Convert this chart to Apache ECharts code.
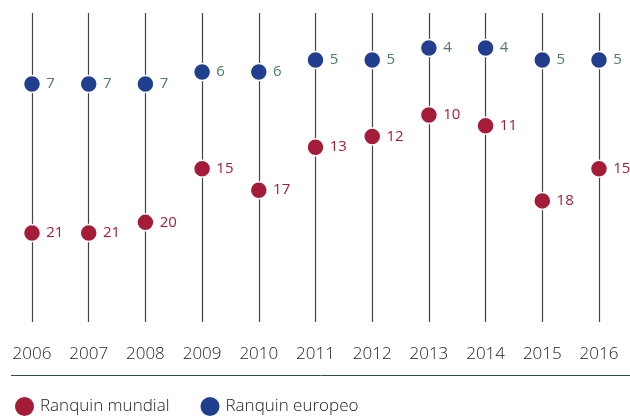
<!DOCTYPE html>
<html>
<head>
<meta charset="utf-8">
<script src="https://cdn.jsdelivr.net/npm/echarts@6/dist/echarts.min.js"></script>
<style>html,body{margin:0;padding:0;background:#fff}#c{width:630px;height:416px}</style>
</head>
<body>
<div id="c"></div>
<script>
const years = ['2006','2007','2008','2009','2010','2011','2012','2013','2014','2015','2016'];
const rankMundial = [21, 21, 20, 15, 17, 13, 12, 10, 11, 18, 15];
const rankEuropeo = [7, 7, 7, 6, 6, 5, 5, 4, 4, 5, 5];
const seriesNames = ['Ranquin mundial', 'Ranquin europeo'];

const chart = echarts.init(document.getElementById('c'), null, {renderer: 'canvas'});
const font = '"Open Sans", "Noto Sans", sans-serif';
chart.setOption({
  animation: false,
  grid: {left: 32, right: 31, top: 13, bottom: 94},
  xAxis: {
    type: 'category', data: years, boundaryGap: false,
    axisLine: {show: false}, axisTick: {show: false},
    splitLine: {show: true, interval: 0, lineStyle: {color: '#444', width: 1.2}},
    axisLabel: {interval: 0, margin: 24, fontSize: 17, fontWeight: 300, color: '#222', fontFamily: font}
  },
  yAxis: [
    {type: 'value', inverse: true, min: 0.5, max: 29.28, show: false, splitLine: {show: false}},
    {type: 'value', inverse: true, min: 1.08, max: 26.83, show: false, splitLine: {show: false}}
  ],
  legend: {
    left: 13, top: 395, padding: 0, itemWidth: 21, itemHeight: 21, itemGap: 29,
    icon: 'circle',
    textStyle: {fontSize: 17, fontWeight: 300, color: '#222', fontFamily: font, padding: [0, 0, 0, 0]},
    data: seriesNames
  },
  graphic: [{
    type: 'line', shape: {x1: 11, y1: 375.5, x2: 630, y2: 375.5},
    style: {stroke: '#2f4f4f', lineWidth: 1}
  }],
  series: [
    {
      name: seriesNames[0], type: 'scatter', yAxisIndex: 0, data: rankMundial,
      symbolSize: 17,
      itemStyle: {color: '#a51c38', borderColor: '#fff', borderWidth: 1.5, opacity: 1},
      label: {show: true, position: 'right', distance: 5, fontSize: 15, color: '#a51c38', fontFamily: font}
    },
    {
      name: seriesNames[1], type: 'scatter', yAxisIndex: 1, data: rankEuropeo,
      symbolSize: 17,
      itemStyle: {color: '#213f8f', borderColor: '#fff', borderWidth: 1.5, opacity: 1},
      label: {show: true, position: 'right', distance: 5, fontSize: 15, color: '#4d7a72', fontFamily: font}
    }
  ]
});
</script>
</body>
</html>
